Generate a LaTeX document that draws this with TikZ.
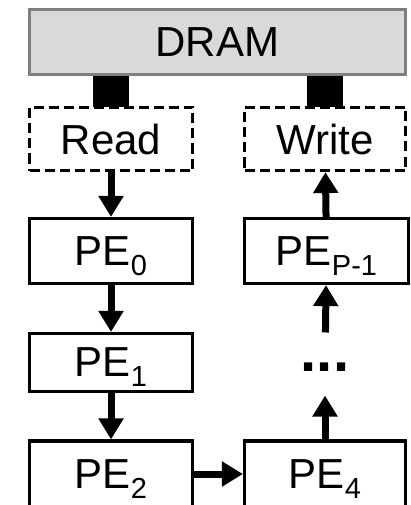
\documentclass[tikz,border=0pt]{standalone}
\usepackage{fontspec}
\setmainfont{Liberation Sans}
\usetikzlibrary{arrows.meta}
\newcommand\pesub[1]{\raisebox{-10pt}[0pt][0pt]{\fontsize{29}{29}\selectfont #1}}
\begin{document}
\begin{tikzpicture}[x=1pt,y=-1pt,
  box/.style={draw=black,line width=3.2pt,fill=white,inner sep=0pt,font=\fontsize{42}{42}\selectfont},
  dbox/.style={box,dash pattern=on 10pt off 5pt},
  flow/.style={line width=7pt,-{Triangle[length=21pt,width=24pt]}},
]
\useasboundingbox (0,0) rectangle (411,505);
\clip (0,0) rectangle (411,505);
\definecolor{dramfill}{HTML}{D9D9D9}
\definecolor{dramedge}{HTML}{7F7F7F}
% DRAM
\node[draw=dramedge,fill=dramfill,line width=3pt,inner sep=0pt,
  minimum width=376pt,minimum height=65pt,font=\fontsize{42}{42}\selectfont] (dram) at (217.5,42) {DRAM};
% black ports (positioned from the buffer boxes below)
\coordinate (readtop) at (111,107.5);
\coordinate (writetop) at (325,107.5);
\fill[black] ([xshift=-18pt]readtop |- dram.south) rectangle ([xshift=18pt]readtop);
\fill[black] ([xshift=-18pt]writetop |- dram.south) rectangle ([xshift=18pt]writetop);
% Read / Write buffers
\node[dbox,minimum width=163pt,minimum height=63pt] (read) at (111,139) {Read};
\node[dbox,minimum width=161pt,minimum height=63pt] (write) at (325,139) {Write};
% PEs
\node[box,minimum width=163pt,minimum height=65pt] (pe0) at (111,251) {PE\pesub{0}};
\node[box,minimum width=164pt,minimum height=65pt] (pepm) at (326.5,251) {PE\pesub{P-1}};
\node[box,minimum width=163pt,minimum height=58pt] (pe1) at (111,362.5) {PE\pesub{1}};
\node[box,minimum width=163pt,minimum height=66pt] (pe2) at (111,474) {PE\pesub{2}};
\node[box,minimum width=161pt,minimum height=66pt] (pe4) at (325,474) {PE\pesub{4}};
\node[inner sep=0pt,font=\fontsize{58}{58}\selectfont\bfseries] (dots) at (325,367) {...};
% arrows
\draw[flow] (read) -- (pe0);
\draw[flow] (pe0) -- (pe1);
\draw[flow] (pe1) -- (pe2);
\draw[flow] (pe2) -- (pe4);
\draw[flow,shorten >=24pt] (pe4) -- (dots);
\draw[flow,shorten <=30pt] (dots) -- (pepm);
\draw[flow] (pepm) -- (write);
\end{tikzpicture}
\end{document}
